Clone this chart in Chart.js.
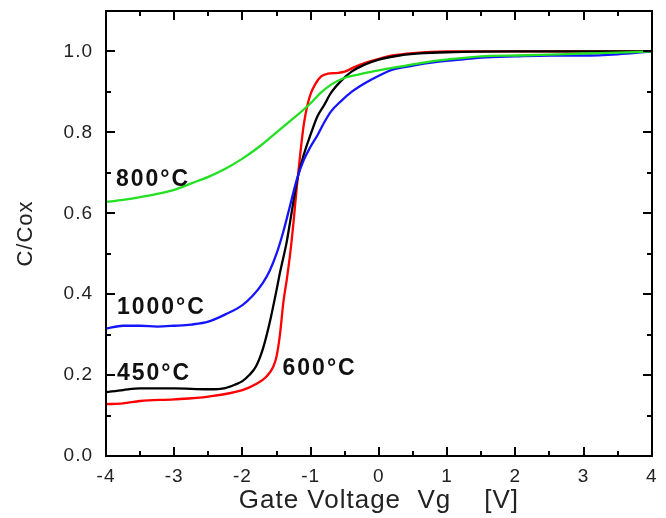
<!DOCTYPE html>
<html>
<head>
<meta charset="utf-8">
<script src="https://cdn.jsdelivr.net/npm/chart.js@4"></script>
<style>
html,body{margin:0;padding:0;background:#fff;}
</style>
</head>
<body>
<canvas id="c" width="666" height="518"></canvas>
<script>
// ---- data ----
const xTicks = [-4, -3, -2, -1, 0, 1, 2, 3, 4];
const yTicks = [0.0, 0.2, 0.4, 0.6, 0.8, 1.0];

const x800 = [-4, -3.75, -3.5, -3.25, -3, -2.75, -2.5, -2.25, -2, -1.75, -1.5, -1.25, -1, -0.85, -0.7, -0.5, -0.3, -0.1, 0.15, 0.4, 0.75, 1.0, 1.5, 2, 2.5, 3, 3.5, 4];
const y800 = [0.628, 0.633, 0.640, 0.648, 0.658, 0.674, 0.690, 0.710, 0.735, 0.765, 0.800, 0.835, 0.872, 0.898, 0.918, 0.935, 0.943, 0.950, 0.958, 0.965, 0.975, 0.980, 0.988, 0.990, 0.992, 0.995, 0.997, 1.000];

const x1000 = [-4, -3.75, -3.5, -3.25, -3, -2.75, -2.5, -2.25, -2.0, -1.85, -1.7, -1.6, -1.5, -1.4, -1.3, -1.2, -1.1, -1.0, -0.9, -0.8, -0.7, -0.55, -0.4, -0.2, 0, 0.2, 0.5, 0.8, 1.2, 1.5, 2, 2.5, 3, 3.5, 4];
const y1000 = [0.315, 0.322, 0.322, 0.320, 0.322, 0.325, 0.332, 0.350, 0.373, 0.396, 0.428, 0.458, 0.500, 0.555, 0.620, 0.685, 0.732, 0.765, 0.793, 0.825, 0.852, 0.878, 0.900, 0.922, 0.940, 0.955, 0.965, 0.973, 0.980, 0.985, 0.988, 0.990, 0.990, 0.993, 1.000];

const x450 = [-4, -3.75, -3.5, -3.0, -2.5, -2.25, -2.1, -2.0, -1.9, -1.8, -1.7, -1.6, -1.5, -1.45, -1.35, -1.3, -1.2, -1.1, -1.0, -0.9, -0.8, -0.7, -0.55, -0.4, -0.2, 0, 0.3, 0.6, 1.0, 2, 3, 4];
const y450 = [0.158, 0.163, 0.167, 0.167, 0.165, 0.168, 0.177, 0.185, 0.200, 0.222, 0.265, 0.330, 0.410, 0.453, 0.530, 0.580, 0.680, 0.745, 0.795, 0.840, 0.868, 0.898, 0.928, 0.950, 0.968, 0.980, 0.990, 0.995, 0.998, 1.000, 1.000, 1.000];

const x600 = [-4, -3.75, -3.5, -3.0, -2.5, -2.0, -1.8, -1.65, -1.55, -1.5, -1.45, -1.4, -1.35, -1.3, -1.25, -1.2, -1.15, -1.1, -1.05, -1.0, -0.93, -0.85, -0.75, -0.6, -0.5, -0.35, -0.2, 0, 0.2, 0.5, 1, 2, 3, 4];
const y600 = [0.128, 0.130, 0.136, 0.140, 0.147, 0.163, 0.178, 0.196, 0.220, 0.246, 0.300, 0.380, 0.436, 0.500, 0.580, 0.670, 0.750, 0.820, 0.865, 0.895, 0.920, 0.938, 0.945, 0.947, 0.950, 0.962, 0.972, 0.982, 0.990, 0.996, 1.000, 1.000, 1.000, 1.000];

const seriesNames = ['450°C', '600°C', '800°C', '1000°C'];
const labelText = ['800°C', '1000°C', '450°C', '600°C'];
const labelX = [-3.854, -3.84, -3.84, -1.412];
const labelY = [0.682, 0.366, 0.204, 0.216];

// ---- build ----
function pts(xs, ys){ return xs.map((x,i)=>({x:x, y:ys[i]})); }

const spacingPlugin = {
  id: 'spacing',
  beforeInit(chart){ try { chart.ctx.letterSpacing = '1px'; } catch(e){} },
  beforeDraw(chart){ try { chart.ctx.letterSpacing = '1px'; } catch(e){} }
};

const boxPlugin = {
  id: 'boxTicks',
  afterDraw(chart){
    const ctx = chart.ctx;
    const sx = chart.scales.x, sy = chart.scales.y;
    const L = Math.round(sx.getPixelForValue(sx.min));
    const R = Math.round(sx.getPixelForValue(sx.max));
    const T = Math.round(sy.getPixelForValue(sy.max));
    const B = Math.round(sy.getPixelForValue(sy.min));
    ctx.save();
    ctx.fillStyle = '#000';
    ctx.fillRect(L - 1, T - 1, R - L + 2, 2);
    ctx.fillRect(L - 1, B - 1, R - L + 2, 2);
    ctx.fillRect(L - 1, T - 1, 2, B - T + 2);
    ctx.fillRect(R - 1, T - 1, 2, B - T + 2);
    for (let k = -7; k <= 7; k++){
      const p = Math.round(sx.getPixelForValue(k / 2));
      const len = (k % 2 === 0) ? 9 : 5;
      ctx.fillRect(p - 1, B - len, 2, len);
      ctx.fillRect(p - 1, T, 2, len);
    }
    for (let k = 1; k <= 10; k++){
      const p = Math.round(sy.getPixelForValue(k / 10));
      const len = (k % 2 === 0) ? 9 : 5;
      ctx.fillRect(L, p - 1, len, 2);
      ctx.fillRect(R - len, p - 1, len, 2);
    }
    ctx.fillStyle = '#111';
    ctx.font = 'bold 23px "Liberation Sans", Arial, sans-serif';
    try { ctx.letterSpacing = '2px'; } catch(e){}
    ctx.textAlign = 'left';
    ctx.textBaseline = 'middle';
    for (let i = 0; i < labelText.length; i++){
      ctx.fillText(labelText[i], sx.getPixelForValue(labelX[i]), sy.getPixelForValue(labelY[i]));
    }
    ctx.restore();
  }
};

new Chart(document.getElementById('c'), {
  type: 'line',
  data: {
    datasets: [
      {label: seriesNames[2], data: pts(x800, y800), borderColor: '#22e022', borderWidth: 2.3},
      {label: seriesNames[3], data: pts(x1000, y1000), borderColor: '#1414ff', borderWidth: 2.3},
      {label: seriesNames[0], data: pts(x450, y450), borderColor: '#000000', borderWidth: 2.3},
      {label: seriesNames[1], data: pts(x600, y600), borderColor: '#ff0000', borderWidth: 2.3}
    ]
  },
  options: {
    responsive: false,
    animation: false,
    devicePixelRatio: 1,
    layout: {padding: {top: 11, right: 13, left: 0, bottom: 0}},
    elements: {point: {radius: 0}, line: {tension: 0.25, cubicInterpolationMode: 'monotone', fill: false}},
    plugins: {legend: {display: false}, tooltip: {enabled: false}},
    scales: {
      x: {
        type: 'linear', min: -4, max: 4,
        afterFit(s){ s.height = 62; },
        afterBuildTicks(s){ s.ticks = xTicks.map(v=>({value:v})); },
        grid: {display: false, drawTicks: false},
        border: {display: false},
        ticks: {color: '#222', padding: 9, font: {size: 19, family: '"Liberation Sans", Arial, sans-serif'}, maxRotation: 0, autoSkip: false,
                callback: v => String(v)},
        title: {display: true, text: 'Gate Voltage  Vg    [V]', color: '#222',
                font: {size: 26, family: '"Liberation Sans", Arial, sans-serif'}, padding: {top: 0, bottom: 2}}
      },
      y: {
        type: 'linear', min: 0, max: 1.1,
        afterFit(s){ s.width = 106; s.paddingTop = 0; s.paddingBottom = 0; },
        afterBuildTicks(s){ s.ticks = yTicks.map(v=>({value:v})); },
        grid: {display: false, drawTicks: false},
        border: {display: false},
        ticks: {color: '#222', padding: 13, font: {size: 19, family: '"Liberation Sans", Arial, sans-serif'},
                callback: v => Number(v).toFixed(1)},
        title: {display: true, text: 'C/Cox', color: '#222',
                font: {size: 22, family: '"Liberation Sans", Arial, sans-serif'}, padding: {top: 13, bottom: 0}}
      }
    }
  },
  plugins: [spacingPlugin, boxPlugin]
});
</script>
</body>
</html>
